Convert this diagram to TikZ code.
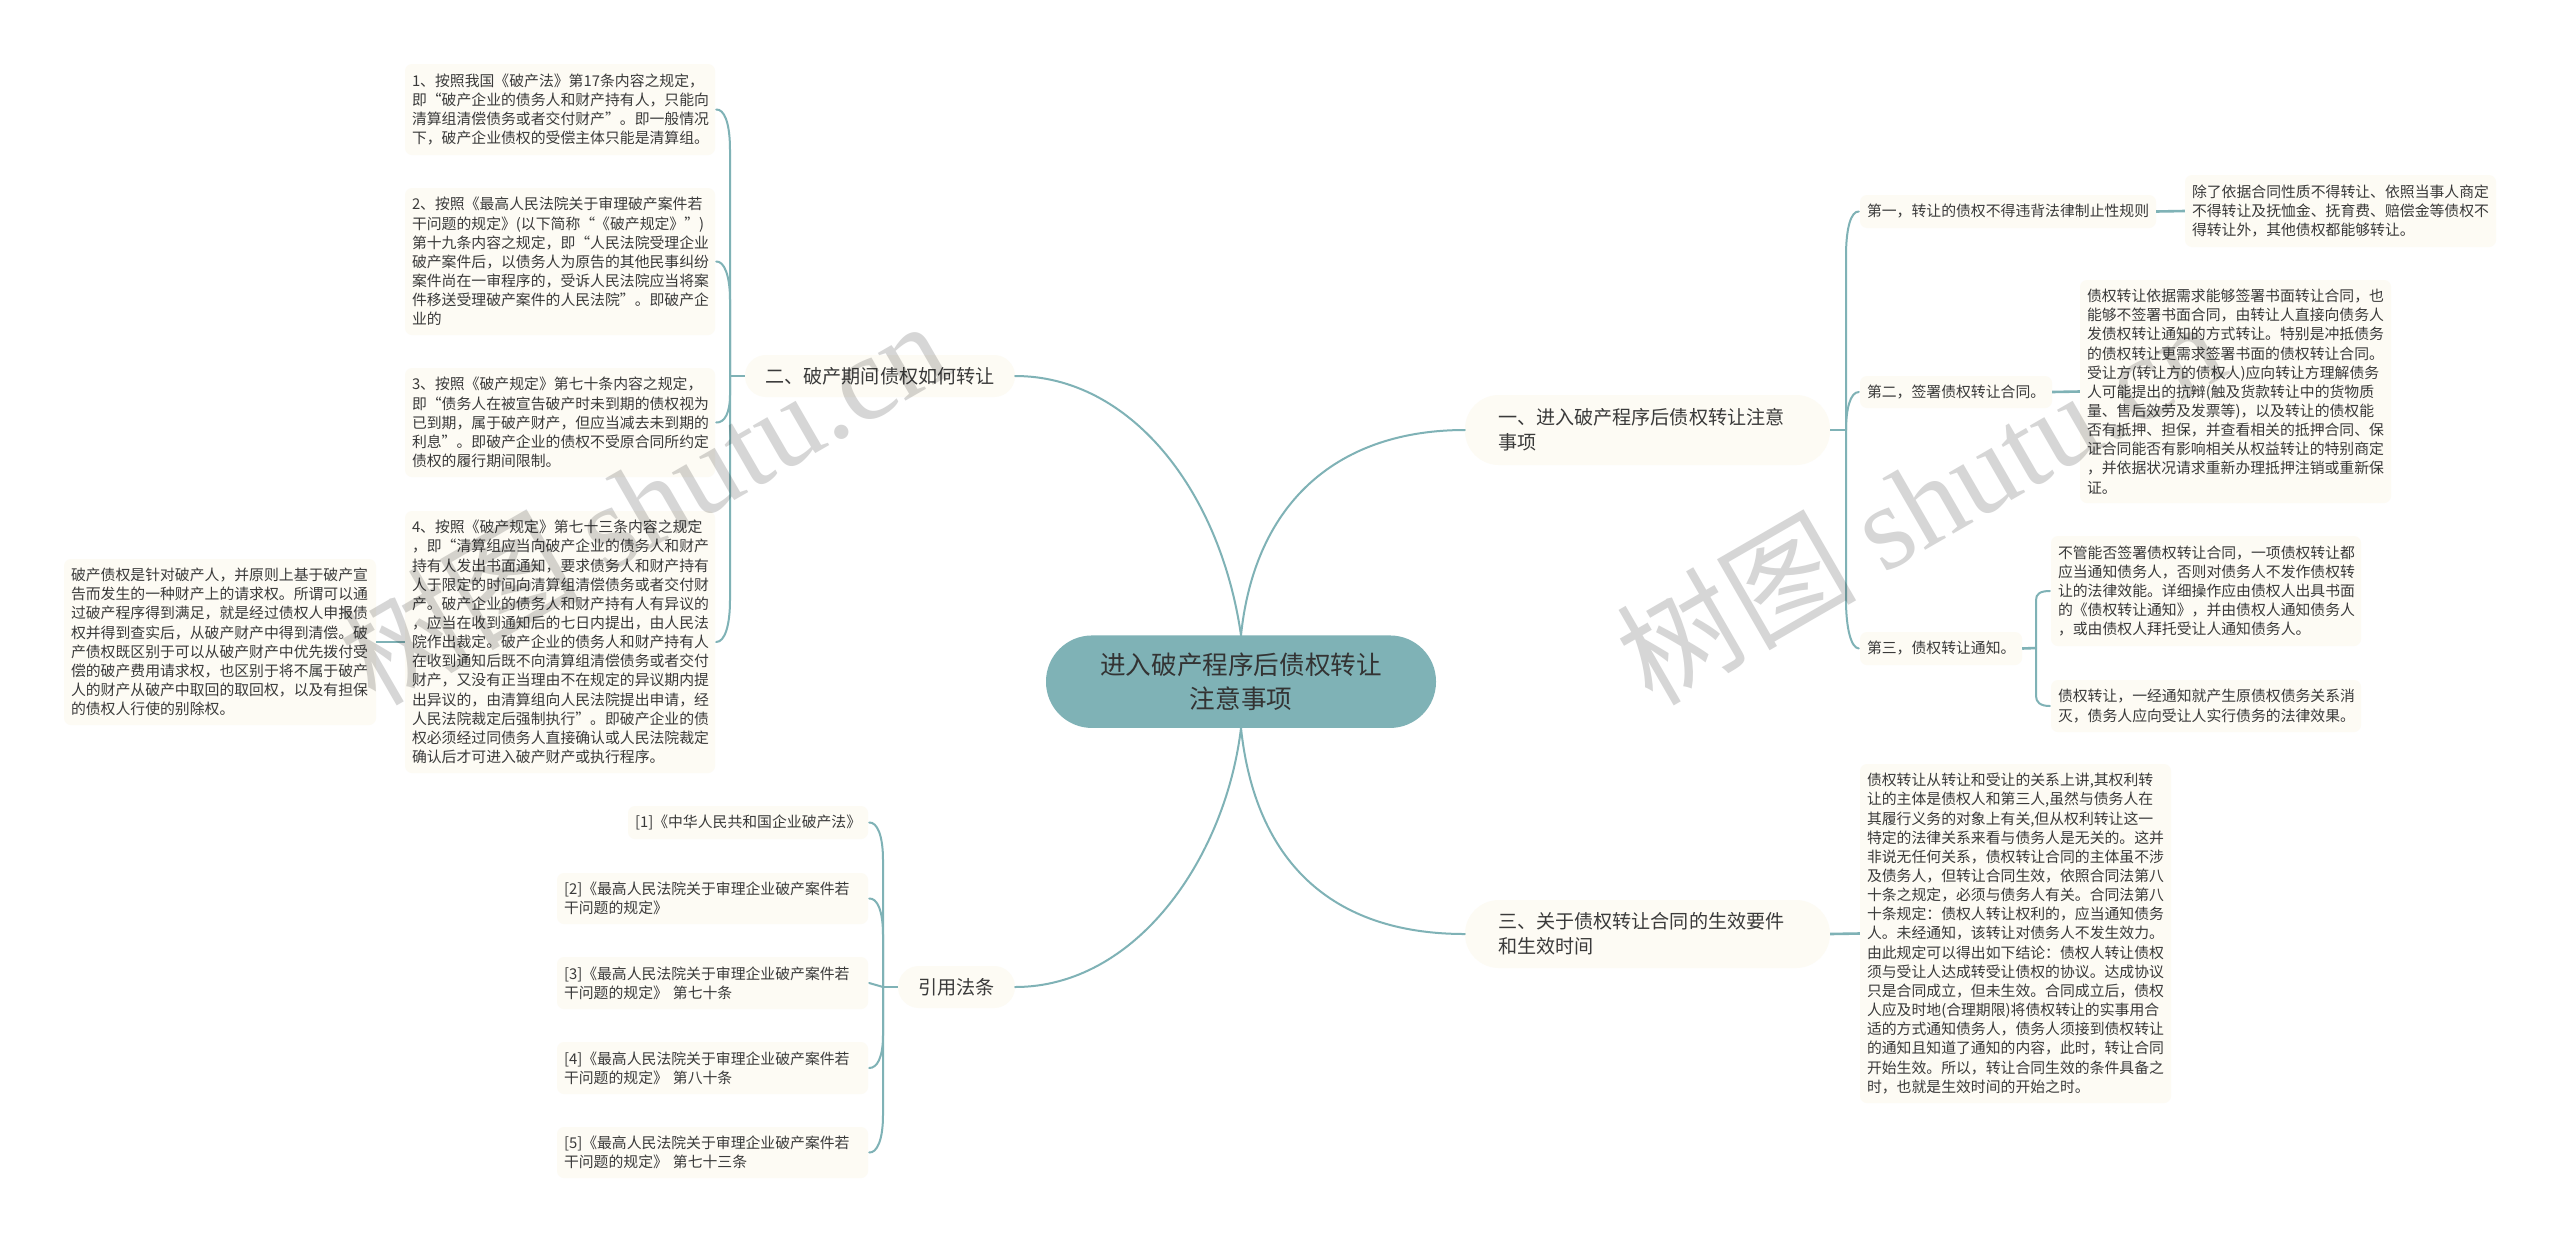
\documentclass[tikz,border=0pt]{standalone}
\usepackage{fontspec}
\setmainfont{Noto Sans CJK SC}
\newfontfamily\wmlatin{Liberation Serif}
\definecolor{teal}{HTML}{7FB2B6}
\definecolor{boxfill}{HTML}{FDFBF4}
\definecolor{inkc}{HTML}{3A3A3A}
\definecolor{wmc}{HTML}{D6D6D6}
\tikzset{
  boxbase/.style={fill=boxfill,draw=none,inner sep=0pt,align=left,text=inkc,anchor=center},
  leaf/.style={boxbase,rounded corners=7pt,font=\fontsize{14.85}{19.15}\selectfont},
  mainb/.style={boxbase,font=\fontsize{19.1}{25.3}\selectfont},
  rootb/.style={fill=teal,draw=none,inner sep=0pt,align=center,rounded corners=46pt,text=black!80,font=\fontsize{25.6}{34}\selectfont},
  conn/.style={draw=teal,line width=2pt,line cap=round},
  stub/.style={draw=teal,line width=2.6pt},
  wmark/.style={text=wmc,inner sep=0pt,anchor=base west,rotate=30}
}
\newcommand{\boxat}[7]{%
  \pgfmathsetlengthmacro{\bw}{#5-#3}%
  \pgfmathsetlengthmacro{\bh}{#6-#4}%
  \pgfmathsetlengthmacro{\tw}{#5-#3-14}%
  \node[#1,minimum width=\bw,minimum height=\bh,text width=\tw] (#2) at ({(#3+#5)/2},{(#4+#6)/2}) {#7};}
\begin{document}
\begin{tikzpicture}[x=1pt,y=-1pt]
\useasboundingbox (0,0) rectangle (2560,1243);
\fill[white] (0,0) rectangle (2560,1243);
% root
\node[rootb,minimum width=390pt,minimum height=92.5pt] (root) at (1241,681.7) {进入破产程序后债权转让\\注意事项};
% main branches
\node[mainb,rounded corners=34pt,minimum width=365pt,minimum height=70pt,text width=299pt] (b1) at (1647.5,430) {一、进入破产程序后债权转让注意\\事项};
\node[mainb,rounded corners=21pt,minimum width=270pt,minimum height=42pt,align=center] (b2) at (880,376) {二、破产期间债权如何转让};
\node[mainb,rounded corners=34pt,minimum width=365pt,minimum height=68pt,text width=299pt] (b3) at (1647.5,934) {三、关于债权转让合同的生效要件\\和生效时间};
\node[mainb,rounded corners=21pt,minimum width=117pt,minimum height=42pt,align=center] (b4) at (956.5,987) {引用法条};
% branch 1 children
\boxat{leaf}{s1}{1860}{195}{2156}{228}{第一，转让的债权不得违背法律制止性规则}
\boxat{leaf}{s2}{1860}{376}{2052}{408}{第二，签署债权转让合同。}
\boxat{leaf}{s3}{1860}{632}{2022}{665}{第三，债权转让通知。}
\boxat{leaf}{d1}{2185}{175}{2496}{247}{除了依据合同性质不得转让、依照当事人商定\\不得转让及抚恤金、抚育费、赔偿金等债权不\\得转让外，其他债权都能够转让。}
\boxat{leaf}{d2}{2080}{280}{2391}{503}{债权转让依据需求能够签署书面转让合同，也\\能够不签署书面合同，由转让人直接向债务人\\发债权转让通知的方式转让。特别是冲抵债务\\的债权转让更需求签署书面的债权转让合同。\\受让方(转让方的债权人)应向转让方理解债务\\人可能提出的抗辩(触及货款转让中的货物质\\量、售后效劳及发票等)，以及转让的债权能\\否有抵押、担保，并查看相关的抵押合同、保\\证合同能否有影响相关从权益转让的特别商定\\，并依据状况请求重新办理抵押注销或重新保\\证。}
\boxat{leaf}{d3a}{2051}{536}{2361}{646}{不管能否签署债权转让合同，一项债权转让都\\应当通知债务人，否则对债务人不发作债权转\\让的法律效能。详细操作应由债权人出具书面\\的《债权转让通知》，并由债权人通知债务人\\，或由债权人拜托受让人通知债务人。}
\boxat{leaf}{d3b}{2051}{680}{2361}{732}{债权转让，一经通知就产生原债权债务关系消\\灭，债务人应向受让人实行债务的法律效果。}
% branch 3 child
\boxat{leaf}{t1}{1860}{764}{2171}{1103}{债权转让从转让和受让的关系上讲,其权利转\\让的主体是债权人和第三人,虽然与债务人在\\其履行义务的对象上有关,但从权利转让这一\\特定的法律关系来看与债务人是无关的。这并\\非说无任何关系，债权转让合同的主体虽不涉\\及债务人，但转让合同生效，依照合同法第八\\十条之规定，必须与债务人有关。合同法第八\\十条规定：债权人转让权利的，应当通知债务\\人。未经通知，该转让对债务人不发生效力。\\由此规定可以得出如下结论：债权人转让债权\\须与受让人达成转受让债权的协议。达成协议\\只是合同成立，但未生效。合同成立后，债权\\人应及时地(合理期限)将债权转让的实事用合\\适的方式通知债务人，债务人须接到债权转让\\的通知且知道了通知的内容，此时，转让合同\\开始生效。所以，转让合同生效的条件具备之\\时，也就是生效时间的开始之时。}
% branch 2 children
\boxat{leaf}{l1}{405}{64}{715}{155}{1、按照我国《破产法》第17条内容之规定，\\即“破产企业的债务人和财产持有人，只能向\\清算组清偿债务或者交付财产”。即一般情况\\下，破产企业债权的受偿主体只能是清算组。}
\boxat{leaf}{l2}{405}{188}{715}{335}{2、按照《最高人民法院关于审理破产案件若\\干问题的规定》(以下简称“《破产规定》”)\\第十九条内容之规定，即“人民法院受理企业\\破产案件后，以债务人为原告的其他民事纠纷\\案件尚在一审程序的，受诉人民法院应当将案\\件移送受理破产案件的人民法院”。即破产企\\业的}
\boxat{leaf}{l3}{405}{368}{715}{477}{3、按照《破产规定》第七十条内容之规定，\\即“债务人在被宣告破产时未到期的债权视为\\已到期，属于破产财产，但应当减去未到期的\\利息”。即破产企业的债权不受原合同所约定\\债权的履行期间限制。}
\boxat{leaf}{l4}{405}{511}{715}{773}{4、按照《破产规定》第七十三条内容之规定\\，即“清算组应当向破产企业的债务人和财产\\持有人发出书面通知，要求债务人和财产持有\\人于限定的时间向清算组清偿债务或者交付财\\产。破产企业的债务人和财产持有人有异议的\\，应当在收到通知后的七日内提出，由人民法\\院作出裁定。破产企业的债务人和财产持有人\\在收到通知后既不向清算组清偿债务或者交付\\财产，又没有正当理由不在规定的异议期内提\\出异议的，由清算组向人民法院提出申请，经\\人民法院裁定后强制执行”。即破产企业的债\\权必须经过同债务人直接确认或人民法院裁定\\确认后才可进入破产财产或执行程序。}
\boxat{leaf}{l5}{64}{559}{376}{725}{破产债权是针对破产人，并原则上基于破产宣\\告而发生的一种财产上的请求权。所谓可以通\\过破产程序得到满足，就是经过债权人申报债\\权并得到查实后，从破产财产中得到清偿。破\\产债权既区别于可以从破产财产中优先拨付受\\偿的破产费用请求权，也区别于将不属于破产\\人的财产从破产中取回的取回权，以及有担保\\的债权人行使的别除权。}
% citations
\boxat{leaf}{r1}{628}{806}{868}{839}{[1]《中华人民共和国企业破产法》}
\boxat{leaf}{r2}{557}{873}{868}{924}{[2]《最高人民法院关于审理企业破产案件若\\干问题的规定》}
\boxat{leaf}{r3}{557}{957}{868}{1009}{[3]《最高人民法院关于审理企业破产案件若\\干问题的规定》 第七十条}
\boxat{leaf}{r4}{557}{1042}{868}{1094}{[4]《最高人民法院关于审理企业破产案件若\\干问题的规定》 第八十条}
\boxat{leaf}{r5}{557}{1127}{868}{1178}{[5]《最高人民法院关于审理企业破产案件若\\干问题的规定》 第七十三条}
% trunks
\coordinate (ta) at (1846,430);
\coordinate (tb) at (730,376);
\coordinate (tc) at (883,987);
\coordinate (td) at (2036,648);
% root connectors
\draw[conn] (root.north) .. controls (1255,500) and (1340,430) .. (b1.west);
\draw[conn] (root.north) .. controls (1220,490) and (1130,376) .. (b2.east);
\draw[conn] (root.south) .. controls (1255,860) and (1330,934) .. (b3.west);
\draw[conn] (root.south) .. controls (1225,860) and (1135,987) .. (b4.east);
% branch 1
\draw[stub] (b1.east) -- (ta);
\draw[conn] (ta) -- (1846,256) .. controls (1846,228) and (1851,211) .. ([xshift=-1pt]s1.west);
\draw[conn] (ta) .. controls (1846,410) and (1850,392) .. ([xshift=-1pt]s2.west);
\draw[conn] (ta) -- (1846,600) .. controls (1846,628) and (1851,648) .. ([xshift=-1pt]s3.west);
\draw[stub] (s1.east) -- (d1.west);
\draw[stub] (s2.east) -- (d2.west);
% branch 1, third item
\draw[stub] (s3.east) -- (td);
\draw[conn] (td) -- (2036,600) .. controls (2036,594) and (2040,591) .. ([xshift=-1pt]d3a.west);
\draw[conn] (td) -- (2036,696) .. controls (2036,702) and (2040,706) .. ([xshift=-1pt]d3b.west);
% branch 3
\draw[stub] (b3.east) -- (t1.west);
% branch 2
\draw[stub] (b2.west) -- (tb);
\draw[conn] (tb) -- (730,150) .. controls (730,122) and (724,109) .. ([xshift=1pt]l1.east);
\draw[conn] (tb) -- (730,300) .. controls (730,275) and (724,261) .. ([xshift=1pt]l2.east);
\draw[conn] (tb) -- (730,395) .. controls (730,412) and (725,423) .. ([xshift=1pt]l3.east);
\draw[conn] (tb) -- (730,600) .. controls (730,625) and (725,642) .. ([xshift=1pt]l4.east);
\draw[stub] (l5.east) -- (l4.west);
% citations
\draw[stub] (b4.west) -- (tc);
\draw[conn] (tc) -- (883,860) .. controls (883,835) and (877,822) .. ([xshift=1pt]r1.east);
\draw[conn] (tc) -- (883,935) .. controls (883,910) and (877,898) .. ([xshift=1pt]r2.east);
\draw[conn] (tc) -- ([xshift=1pt]r3.east);
\draw[conn] (tc) -- (883,1035) .. controls (883,1058) and (877,1068) .. ([xshift=1pt]r4.east);
\draw[conn] (tc) -- (883,1115) .. controls (883,1140) and (877,1153) .. ([xshift=1pt]r5.east);
% watermarks
\begin{scope}[blend mode=multiply]
\node[wmark] (wm1) at (375,708) {\fontsize{120}{120}\selectfont 树图 {\wmlatin shutu.cn}};
\node[wmark] (wm2) at (1652,708) {\fontsize{120}{120}\selectfont 树图 {\wmlatin shutu.cn}};
\end{scope}
\end{tikzpicture}
\end{document}
